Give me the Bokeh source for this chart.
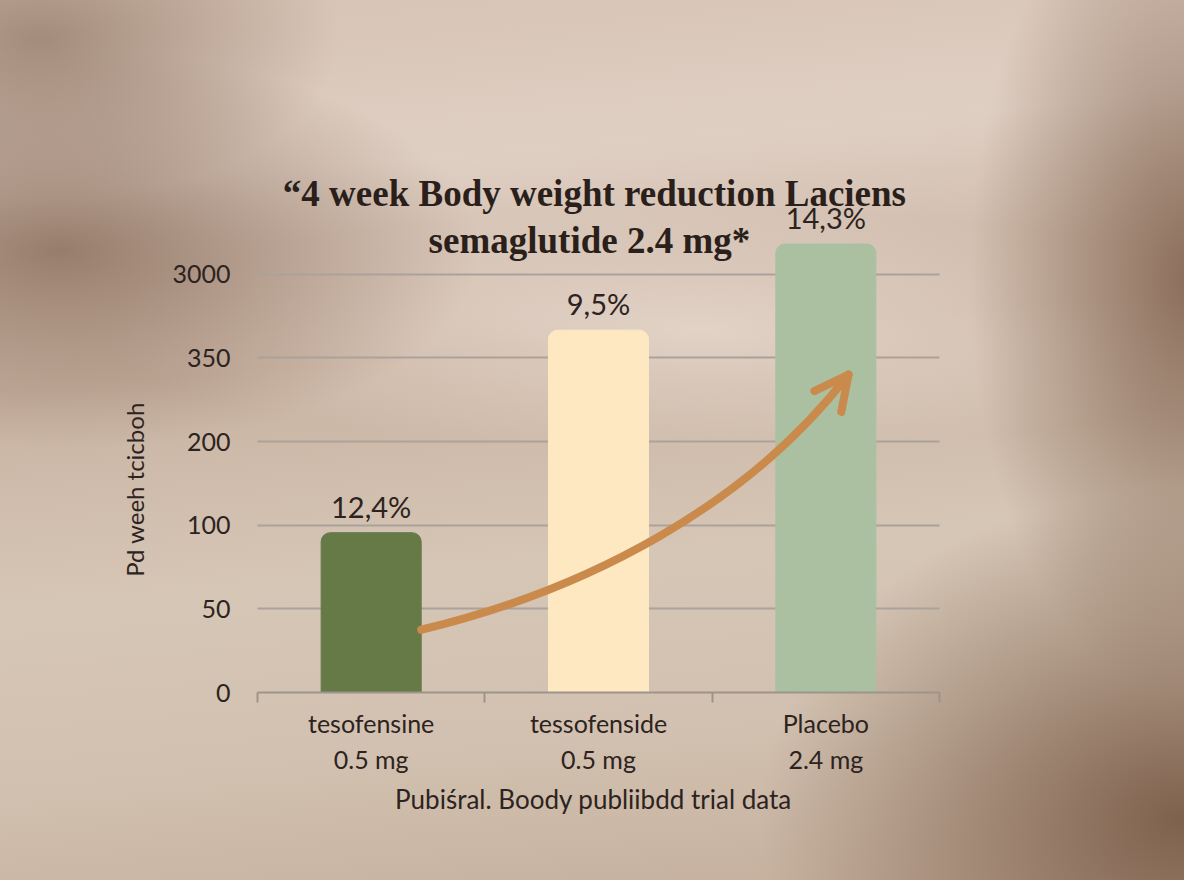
import numpy as np
from bokeh.plotting import figure
from bokeh.models import (FixedTicker, Label, LabelSet, Arrow, OpenHead,
                          ColumnDataSource, Range1d)
from bokeh.core.properties import value
from bokeh.embed import file_html
from bokeh.resources import INLINE

# ---- data -------------------------------------------------------------
drugs = ["tesofensine", "tessofenside", "Placebo"]
doses = ["0.5 mg", "0.5 mg", "2.4 mg"]
# bar heights expressed in tick-slot units of the (non-linear) y axis
bar_values = [1.91, 4.33, 5.36]
bar_labels = ["12,4%", "9,5%", "14,3%"]
bar_colors = ["#667a47", "#fde8c1", "#abc0a1"]
y_tick_labels = ["0", "50", "100", "200", "350", "3000"]

# decorative trend arrow (start, two controls, end) in axis units
trend_x = [0.72, 1.46, 2.16, 2.60]
trend_y = [0.75, 1.23, 2.25, 3.80]

title_line1 = "\u201c4 week Body weight reduction Laciens"
title_line2 = "semaglutide 2.4 mg*"
y_title = "Pd weeh tcicboh"
x_title = "Pubi\u015bral. Boody publiibdd trial data"

TEXT = "#2d231e"
SANS = "Lato"

# ---- geometry of the canvas (frame covers whole canvas) ---------------
W, H = 1184, 880
n = len(drugs)
ny = len(y_tick_labels) - 1
PX_X = (939 - 257) / n          # pixels per category
PX_Y = 502 / 6.0                # pixels per y slot
x_range = Range1d(-257 / PX_X, n + (W - 939) / PX_X)
y_range = Range1d(-(H - 692) / PX_Y, 692 / PX_Y)

p = figure(width=W, height=H, x_range=x_range, y_range=y_range,
           output_backend="svg", toolbar_location=None,
           min_border=0, min_border_left=0, min_border_right=0,
           min_border_top=0, min_border_bottom=0)
p.border_fill_color = None
p.background_fill_color = None
p.outline_line_color = None
p.styles = {
    "background":
        "radial-gradient(ellipse 420px 330px at 1180px 820px, rgba(118,88,68,0.9), rgba(118,88,68,0) 100%),"
        "radial-gradient(ellipse 220px 420px at 1190px 280px, rgba(128,98,78,0.85), rgba(128,98,78,0) 100%),"
        "radial-gradient(ellipse 420px 200px at 60px 250px, rgba(140,112,94,0.85), rgba(140,112,94,0) 100%),"
        "radial-gradient(ellipse 300px 160px at 40px 40px, rgba(150,125,108,0.8), rgba(150,125,108,0) 100%),"
        "radial-gradient(ellipse 600px 120px at 700px 330px, rgba(236,224,214,0.7), rgba(236,224,214,0) 100%),"
        "linear-gradient(175deg, #d6c2b3 0%, #dfcfc3 20%, #c9b3a2 40%, #d6c6b6 62%, #d2c1b0 80%, #c4ae9c 100%)"
}

x_pos = np.arange(n) + 0.5

# axes (drawn inside the frame at data 0)
xa = p.xaxis[0]
xa.fixed_location = 0
xa.bounds = (0, n)
xa.ticker = FixedTicker(ticks=list(x_pos), minor_ticks=list(range(n + 1)))
xa.major_label_overrides = {float(x): f"{d}\n{s}" for x, d, s in zip(x_pos, drugs, doses)}
xa.major_tick_line_color = None
xa.major_tick_out = 0
xa.major_tick_in = 0
xa.minor_tick_line_color = "#9d948c"
xa.minor_tick_line_width = 2
xa.minor_tick_out = 10
xa.minor_tick_in = 0
xa.axis_line_color = "#9d948c"
xa.axis_line_width = 2
xa.major_label_text_font = SANS
xa.major_label_text_font_size = "25px"
xa.major_label_text_color = TEXT
xa.major_label_standoff = 5

ya = p.yaxis[0]
ya.fixed_location = 0
ya.bounds = (0, ny)
ya.ticker = FixedTicker(ticks=list(range(ny + 1)))
ya.major_label_overrides = {i: t for i, t in enumerate(y_tick_labels)}
ya.axis_line_color = None
ya.major_tick_line_color = None
ya.major_tick_out = 0
ya.major_tick_in = 0
ya.minor_tick_line_color = None
ya.major_label_text_font = SANS
ya.major_label_text_font_size = "25px"
ya.major_label_text_color = TEXT
ya.major_label_standoff = 27

p.xgrid.grid_line_color = None
p.ygrid.ticker = FixedTicker(ticks=list(range(1, ny + 1)))
p.ygrid.cross_bounds = (0, n)
p.ygrid.grid_line_color = "#aaa29b"
p.ygrid.grid_line_width = 2

# bars
src = ColumnDataSource(dict(x=x_pos, top=bar_values, color=bar_colors, label=bar_labels))
p.vbar(x="x", top="top", bottom=0, width=0.44, color="color", source=src,
       border_radius=(9, 9, 0, 0))

p.add_layout(LabelSet(x="x", y="top", text="label", source=src, y_offset=15,
                      text_align="center", text_baseline="alphabetic",
                      text_font=value(SANS), text_font_size="29px", text_color=TEXT))

# trend arrow
ARROW = "#c98a4b"
p.bezier(x0=[trend_x[0]], y0=[trend_y[0]], cx0=[trend_x[1]], cy0=[trend_y[1]],
         cx1=[trend_x[2]], cy1=[trend_y[2]], x1=[trend_x[3]], y1=[trend_y[3]],
         line_color=ARROW, line_width=8, line_cap="round")
ex, ey = trend_x[3], trend_y[3]
sx = ex - 0.05 * (trend_x[3] - trend_x[2])
sy = ey - 0.05 * (trend_y[3] - trend_y[2])
p.add_layout(Arrow(end=OpenHead(size=34, line_color=ARROW, line_width=8,
                                line_cap="round", line_join="round"),
                   x_start=sx, y_start=sy, x_end=ex, y_end=ey,
                   line_color=ARROW, line_width=8))

# titles
p.add_layout(Label(x=1.482, y=5.964, text=title_line1, text_align="center",
                   text_baseline="alphabetic", text_font="Liberation Serif",
                   text_font_style="bold", text_font_size="37px", text_color="#2a1f1a"))
p.add_layout(Label(x=1.460, y=5.402, text=title_line2, text_align="center",
                   text_baseline="alphabetic", text_font="Liberation Serif",
                   text_font_style="bold", text_font_size="37px", text_color="#2a1f1a"))

# y axis title
p.add_layout(Label(x=-0.541, y=2.426, text=y_title, angle=np.pi / 2,
                   text_align="center", text_baseline="middle",
                   text_font=SANS, text_font_size="24px", text_color=TEXT))

# footer / x axis title
p.add_layout(Label(x=1.478, y=-1.267, text=x_title, text_align="center",
                   text_baseline="alphabetic", text_font=SANS,
                   text_font_size="26px", text_color=TEXT))

open("out.html", "w").write(file_html(p, INLINE))
